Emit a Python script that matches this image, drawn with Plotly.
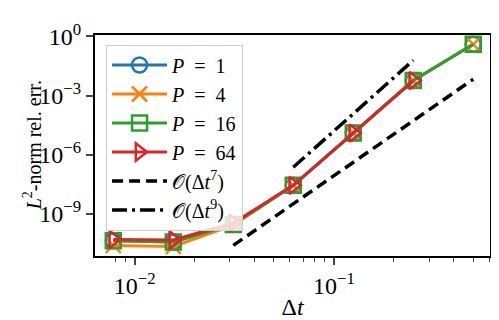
import plotly.graph_objects as go

# time step sizes
dt = [1/128, 1/64, 1/32, 1/16, 1/8, 1/4, 1/2]

# relative L2 errors
err_p1 = [4.3e-11, 3.7e-11, 2.9e-10, 2.8e-8, 1.25e-5, 5.8e-3, 0.40]
err_p4 = [2.5e-11, 2.2e-11, 2.7e-10, 2.8e-8, 1.25e-5, 5.8e-3, 0.40]
err_p16 = [4.3e-11, 3.7e-11, 2.9e-10, 2.8e-8, 1.25e-5, 5.8e-3, 0.40]
err_p64 = [5.0e-11, 4.7e-11, 3.4e-10, 2.8e-8, 1.25e-5, 5.8e-3]

# reference slopes (end points)
ref7_dt = [1/32, 1/2]
ref7_err = [2.5e-11, 6.8e-3]
ref9_dt = [1/16, 1/4]
ref9_err = [2.3e-7, 6.2e-2]

y_tickvals = [1, 1e-3, 1e-6, 1e-9]
y_ticktext = ['10<sup>0</sup>', '10<sup>−3</sup>', '10<sup>−6</sup>', '10<sup>−9</sup>']
x_tickvals = [1e-2, 1e-1]
x_ticktext = ['10<sup>−2</sup>', '10<sup>−1</sup>']
x_minor = [0.008, 0.009, 0.02, 0.03, 0.04, 0.05, 0.06, 0.07, 0.08, 0.09,
           0.2, 0.3, 0.4, 0.5, 0.6]

FONT = 'Liberation Serif, DejaVu Serif, serif'
SP = '\u2002'  # wider spacing around "=" like in math mode

series = [
    (f'<i>P</i>{SP}={SP}1', err_p1, '#1f77b4', 'circle-open'),
    (f'<i>P</i>{SP}={SP}4', err_p4, '#ff7f0e', 'x-thin-open'),
    (f'<i>P</i>{SP}={SP}16', err_p16, '#2ca02c', 'square-open'),
    (f'<i>P</i>{SP}={SP}64', err_p64, '#d62728', 'triangle-right-open'),
]

fig = go.Figure()

for name, err, color, symbol in series:
    fig.add_trace(go.Scatter(
        x=dt[:len(err)], y=err,
        mode='lines+markers',
        name=name,
        line=dict(color=color, width=3),
        marker=dict(symbol=symbol, size=15, color=color,
                    line=dict(color=color, width=2.5)),
    ))

fig.add_trace(go.Scatter(
    x=ref7_dt, y=ref7_err, mode='lines',
    name='𝒪(Δ<i>t</i><sup>7</sup>)',
    line=dict(color='black', width=3.5, dash='11px,6px'),
))
fig.add_trace(go.Scatter(
    x=ref9_dt, y=ref9_err, mode='lines',
    name='𝒪(Δ<i>t</i><sup>9</sup>)',
    line=dict(color='black', width=3.5, dash='15px,5px,3px,5px'),
))

fig.update_layout(
    width=499, height=320,
    margin=dict(l=87, r=17, t=21, b=46),
    paper_bgcolor='white', plot_bgcolor='white',
    font=dict(family=FONT, size=20, color='black'),
    legend=dict(
        x=0.028, y=0.957, xanchor='left', yanchor='top',
        bgcolor='rgba(255,255,255,0.8)',
        bordercolor='#cccccc', borderwidth=1,
        font=dict(family=FONT, size=20),
        itemwidth=55,
    ),
    xaxis=dict(
        type='log', range=[-2.199, -0.217],
        tickvals=x_tickvals, ticktext=x_ticktext,
        tickfont=dict(size=24),
        ticks='outside', ticklen=7, tickwidth=1.5,
        minor=dict(tickvals=x_minor, ticks='outside', ticklen=4, tickwidth=1.2),
        showline=True, linecolor='black', linewidth=2, mirror=True,
        showgrid=False, zeroline=False,
        title=dict(text='Δ<i>t</i>', standoff=0),
    ),
    yaxis=dict(
        type='log', range=[-11.14, 0.075],
        tickvals=y_tickvals, ticktext=y_ticktext,
        tickfont=dict(size=24),
        ticks='outside', ticklen=7, tickwidth=1.5,
        showline=True, linecolor='black', linewidth=2, mirror=True,
        showgrid=False, zeroline=False,
    ),
    annotations=[dict(
        text='<i>L</i><sup>2</sup>-norm rel. err.',
        xref='paper', yref='paper', x=-0.16, y=0.5,
        xanchor='center', yanchor='middle', textangle=-90,
        showarrow=False, font=dict(family=FONT, size=20),
    )],
)

fig.write_html('out.html')
